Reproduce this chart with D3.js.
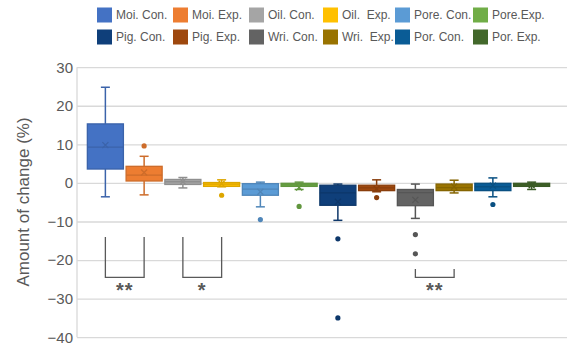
<!DOCTYPE html>
<html><head><meta charset="utf-8">
<script src="https://cdn.jsdelivr.net/npm/d3@7"></script>
<style>body{margin:0;background:#fff}svg{display:block}text{font-family:"Liberation Sans",Arial,sans-serif;fill:#595959}</style>
</head><body><svg id="c" width="568" height="347"></svg>
<script>
const categories = ["Moi. Con.","Moi. Exp.","Oil. Con.","Oil.  Exp.","Pore. Con.","Pore.Exp.","Pig. Con.","Pig. Exp.","Wri. Con.","Wri.  Exp.","Por. Con.","Por. Exp."];
const whiskerHigh = [24.8, 6.9, 1.4, 0.8, 0.2, 0.2, -0.3, 0.8, -0.3, 0.7, 1.3, 0.2];
const q3          = [15.3, 4.3, 0.9, 0.1, -0.2, -0.1, -0.6, -0.6, -1.7, -0.3, -0.1, -0.1];
const median      = [9.3, 2.0, 0.3, -0.3, -1.6, -0.5, -2.6, -1.3, -2.5, -1.2, -1.0, -0.5];
const q1          = [3.6, 0.5, -0.4, -0.9, -3.2, -0.9, -5.8, -2.0, -5.9, -2.0, -2.0, -0.9];
const whiskerLow  = [-3.6, -3.1, -1.3, -1.0, -6.2, -1.7, -9.7, -2.3, -9.2, -2.6, -3.6, -1.7];
const means       = [9.8, 2.7, 0.3, -0.2, -2.3, -1.2, -4.9, -1.5, -4.4, -1.0, -0.7, -0.6];
const outliers    = [[], [9.6], [], [-3.2], [-9.5], [-6.1], [-14.5, -35], [-3.8], [-13.4, -18.4], [], [-5.6], []];
const colors = ["#4472C4","#ED7D31","#A5A5A5","#FFC000","#5B9BD5","#70AD47","#0F3F7A","#9E480E","#636363","#997300","#0A5C96","#43682B"];
const yTicks = [30,20,10,0,-10,-20,-30,-40];
const bracketFrom  = ["Moi. Con.","Oil. Con.","Wri. Con."];
const bracketTo    = ["Moi. Exp.","Oil.  Exp.","Wri.  Exp."];
const bracketTop   = [-14, -14, -22.3];
const bracketBottom= [-24.5, -24.5, -24.5];
const bracketLabel = ["**","*","**"];

const svg = d3.select("#c");
const x = d3.scaleBand().domain(categories).range([86,551]).paddingInner(0.07).paddingOuter(0.035);
const y = d3.scaleLinear().domain([-40,30]).range([337.2,67.2]);
const left = 77, right = 567;
const cx = c => x(c) + x.bandwidth()/2;

// grid
const grid = svg.append("g").attr("transform",`translate(${left},0)`)
  .call(d3.axisLeft(y).tickValues(yTicks).tickSize(-(right-left)).tickFormat(""));
grid.selectAll(".tick line").attr("stroke","#d9d9d9").attr("stroke-width",1.3);
grid.select(".domain").remove();
svg.append("line").attr("x1",left).attr("x2",left).attr("y1",y(30)).attr("y2",y(-40)).attr("stroke","#d9d9d9").attr("stroke-width",1.3);

// tick labels
const ax = svg.append("g").attr("transform",`translate(${left},0)`)
  .call(d3.axisLeft(y).tickValues(yTicks).tickSize(0).tickPadding(4));
ax.select(".domain").remove();
ax.selectAll("text").attr("font-size",15).style("fill","#595959").attr("font-family","Liberation Sans, Arial, sans-serif");

svg.append("text").attr("transform",`translate(23,202) rotate(-90)`).attr("text-anchor","middle")
  .attr("dominant-baseline","central").attr("font-size",17).text("Amount of change (%)");

// boxes
categories.forEach((c,i)=>{
  const col = colors[i], dark = d3.color(col).darker(0.4).formatHex();
  const g = svg.append("g");
  const xc = cx(c), bw = x.bandwidth();
  g.append("line").attr("x1",xc).attr("x2",xc).attr("y1",y(whiskerHigh[i])).attr("y2",y(q3[i])).attr("stroke",dark).attr("stroke-width",1.5);
  g.append("line").attr("x1",xc).attr("x2",xc).attr("y1",y(q1[i])).attr("y2",y(whiskerLow[i])).attr("stroke",dark).attr("stroke-width",1.5);
  [whiskerHigh[i], whiskerLow[i]].forEach(v=>{
    g.append("line").attr("x1",xc-4.5).attr("x2",xc+4.5).attr("y1",y(v)).attr("y2",y(v)).attr("stroke",dark).attr("stroke-width",1.5);
  });
  g.append("rect").attr("x",x(c)).attr("width",bw).attr("y",y(q3[i])).attr("height",Math.max(1,y(q1[i])-y(q3[i])))
    .attr("fill",col).attr("stroke",dark).attr("stroke-width",1.3);
  g.append("line").attr("x1",x(c)).attr("x2",x(c)+bw).attr("y1",y(median[i])).attr("y2",y(median[i])).attr("stroke",dark).attr("stroke-width",1.3);
  const my = y(means[i]), s = 3;
  g.append("path").attr("d",`M${xc-s},${my-s}L${xc+s},${my+s}M${xc-s},${my+s}L${xc+s},${my-s}`).attr("stroke",dark).attr("stroke-width",1.3);
  outliers[i].forEach(v=>{
    g.append("circle").attr("cx",xc).attr("cy",y(v)).attr("r",2.6).attr("fill",dark);
  });
});

// significance brackets
bracketFrom.forEach((f,i)=>{
  const x1 = cx(f), x2 = cx(bracketTo[i]);
  svg.append("path").attr("d",`M${x1},${y(bracketTop[i])}V${y(bracketBottom[i])}H${x2}V${y(bracketTop[i])}`)
    .attr("fill","none").attr("stroke","#595959").attr("stroke-width",1.3);
  svg.append("text").attr("x",(x1+x2)/2).attr("y",y(bracketBottom[i])+20).attr("text-anchor","middle")
    .attr("font-size",20).attr("font-weight","bold").attr("letter-spacing",1).text(bracketLabel[i]);
});

// legend
const legX = [97,173,249,323,395,473];
categories.forEach((c,i)=>{
  const col = i % 6, row = Math.floor(i/6);
  const lx = legX[col], ly = 7.5 + row*22;
  svg.append("rect").attr("x",lx).attr("y",ly).attr("width",15).attr("height",15).attr("fill",colors[i]);
  svg.append("text").attr("x",lx+19).attr("y",ly+7.5).attr("dominant-baseline","central").attr("font-size",12).style("white-space","pre").text(c);
});
</script></body></html>
